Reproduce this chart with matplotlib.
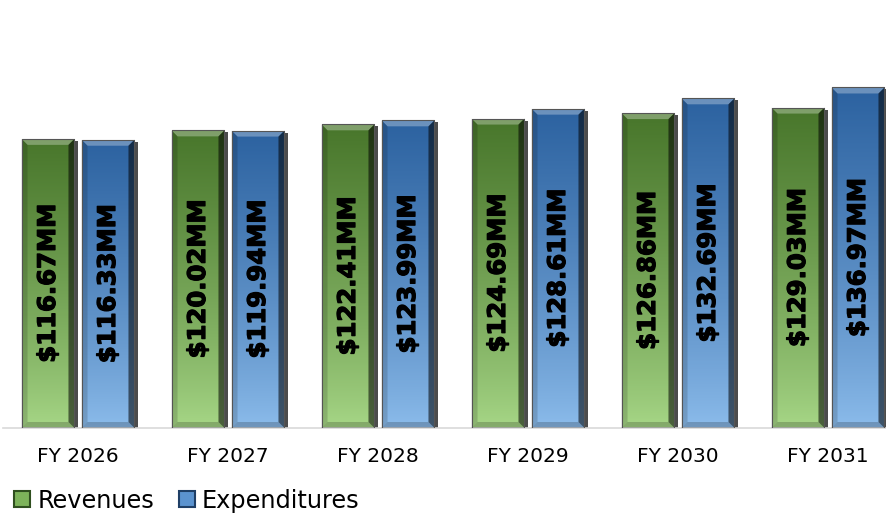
import matplotlib.pyplot as plt
import matplotlib.patheffects as pe
import numpy as np
from matplotlib.colors import LinearSegmentedColormap
from matplotlib.patches import Rectangle, Polygon

years = ["FY 2026", "FY 2027", "FY 2028", "FY 2029", "FY 2030", "FY 2031"]
revenues = [116.67, 120.02, 122.41, 124.69, 126.86, 129.03]
expenditures = [116.33, 119.94, 123.99, 128.61, 132.69, 136.97]
series_names = ["Revenues", "Expenditures"]

# (top colour, bottom colour)
green = ("#48762b", "#a8d888")
blue = ("#2c62a0", "#8dbdec")

W, H = 886, 514
fig = plt.figure(figsize=(W / 100, H / 100), dpi=100)
# axes spans x 3..886 px, baseline at y=428 px, top at y=33 px
ax = fig.add_axes([3 / W, (H - 428) / H, (W - 3) / W, (428 - 33) / H])

width = 0.353
offset = 0.2
ymin, ymax = 2.4, 158.5
px_x = 1 / 150.0                    # data units per pixel (x)
px_y = (ymax - ymin) / 395.0        # data units per pixel (y)


def draw_bar(x, h, cols):
    x0, x1 = x - width / 2, x + width / 2
    b = ymin
    hh = h - b
    # shadow on the right
    ax.add_patch(Rectangle((x0 + 2 * px_x, b), width + 2 * px_x, hh - 2 * px_y,
                           facecolor="#000000", alpha=0.7, lw=0, zorder=1))
    cmap = LinearSegmentedColormap.from_list("g", [cols[1], cols[0]])
    grad = np.linspace(0, 1, 256).reshape(-1, 1) ** 0.8
    im = ax.imshow(grad, extent=[x0, x1, b, h], origin="lower", aspect="auto",
                   cmap=cmap, zorder=2)
    clip = Rectangle((x0, b), width, hh, transform=ax.transData)
    im.set_clip_path(clip)
    d, dy = 6 * px_x, 6 * px_y
    # top bevel (light)
    ax.add_patch(Polygon([(x0, h), (x1, h), (x1 - d, h - dy), (x0 + d, h - dy)],
                         facecolor="white", alpha=0.3, lw=0, zorder=3))
    # right bevel (dark)
    ax.add_patch(Polygon([(x1, h), (x1, b), (x1 - d, b + dy), (x1 - d, h - dy)],
                         facecolor="black", alpha=0.55, lw=0, zorder=3))
    # left bevel (slightly dark)
    ax.add_patch(Polygon([(x0, h), (x0, b), (x0 + d, b + dy), (x0 + d, h - dy)],
                         facecolor="black", alpha=0.15, lw=0, zorder=3))
    # bottom bevel
    ax.add_patch(Polygon([(x0, b), (x1, b), (x1 - d, b + dy), (x0 + d, b + dy)],
                         facecolor="black", alpha=0.2, lw=0, zorder=3))
    ax.add_patch(Rectangle((x0, b), width, hh, facecolor="none",
                           edgecolor="#555555", lw=0.8, zorder=4))
    ax.text(x, (h + b) / 2, "$%.2fMM" % h, rotation=90, ha="center", va="center",
            fontsize=17.5, fontweight="bold", color="black", zorder=5,
            path_effects=[pe.withStroke(linewidth=0.9, foreground="black")])


for i in range(len(years)):
    draw_bar(i - offset, revenues[i], green)
    draw_bar(i + offset, expenditures[i], blue)

ax.set_xlim(-0.5, 5.5 - 17 / 150)
ax.set_ylim(ymin, ymax)
ax.set_xticks(range(len(years)))
ax.set_xticklabels(years, fontsize=14.5)
ax.tick_params(axis="x", length=0, pad=14)
ax.set_yticks([])
for s in ["top", "left", "right"]:
    ax.spines[s].set_visible(False)
ax.spines["bottom"].set_color("#d9d9d9")
ax.spines["bottom"].set_linewidth(1.2)

handles = [Rectangle((0, 0), 1, 1, facecolor="#7db35a", edgecolor="#2f4f1f", lw=1.5),
           Rectangle((0, 0), 1, 1, facecolor="#5b93cf", edgecolor="#1f3f66", lw=1.5)]
fig.legend(handles, series_names, loc="lower left", bbox_to_anchor=(0.0055, -0.016),
           ncol=2, frameon=False, fontsize=17.3, handlelength=0.65, handleheight=0.65,
           handletextpad=0.3, columnspacing=1.05, borderaxespad=0)

fig.savefig("out.png", dpi=100)
